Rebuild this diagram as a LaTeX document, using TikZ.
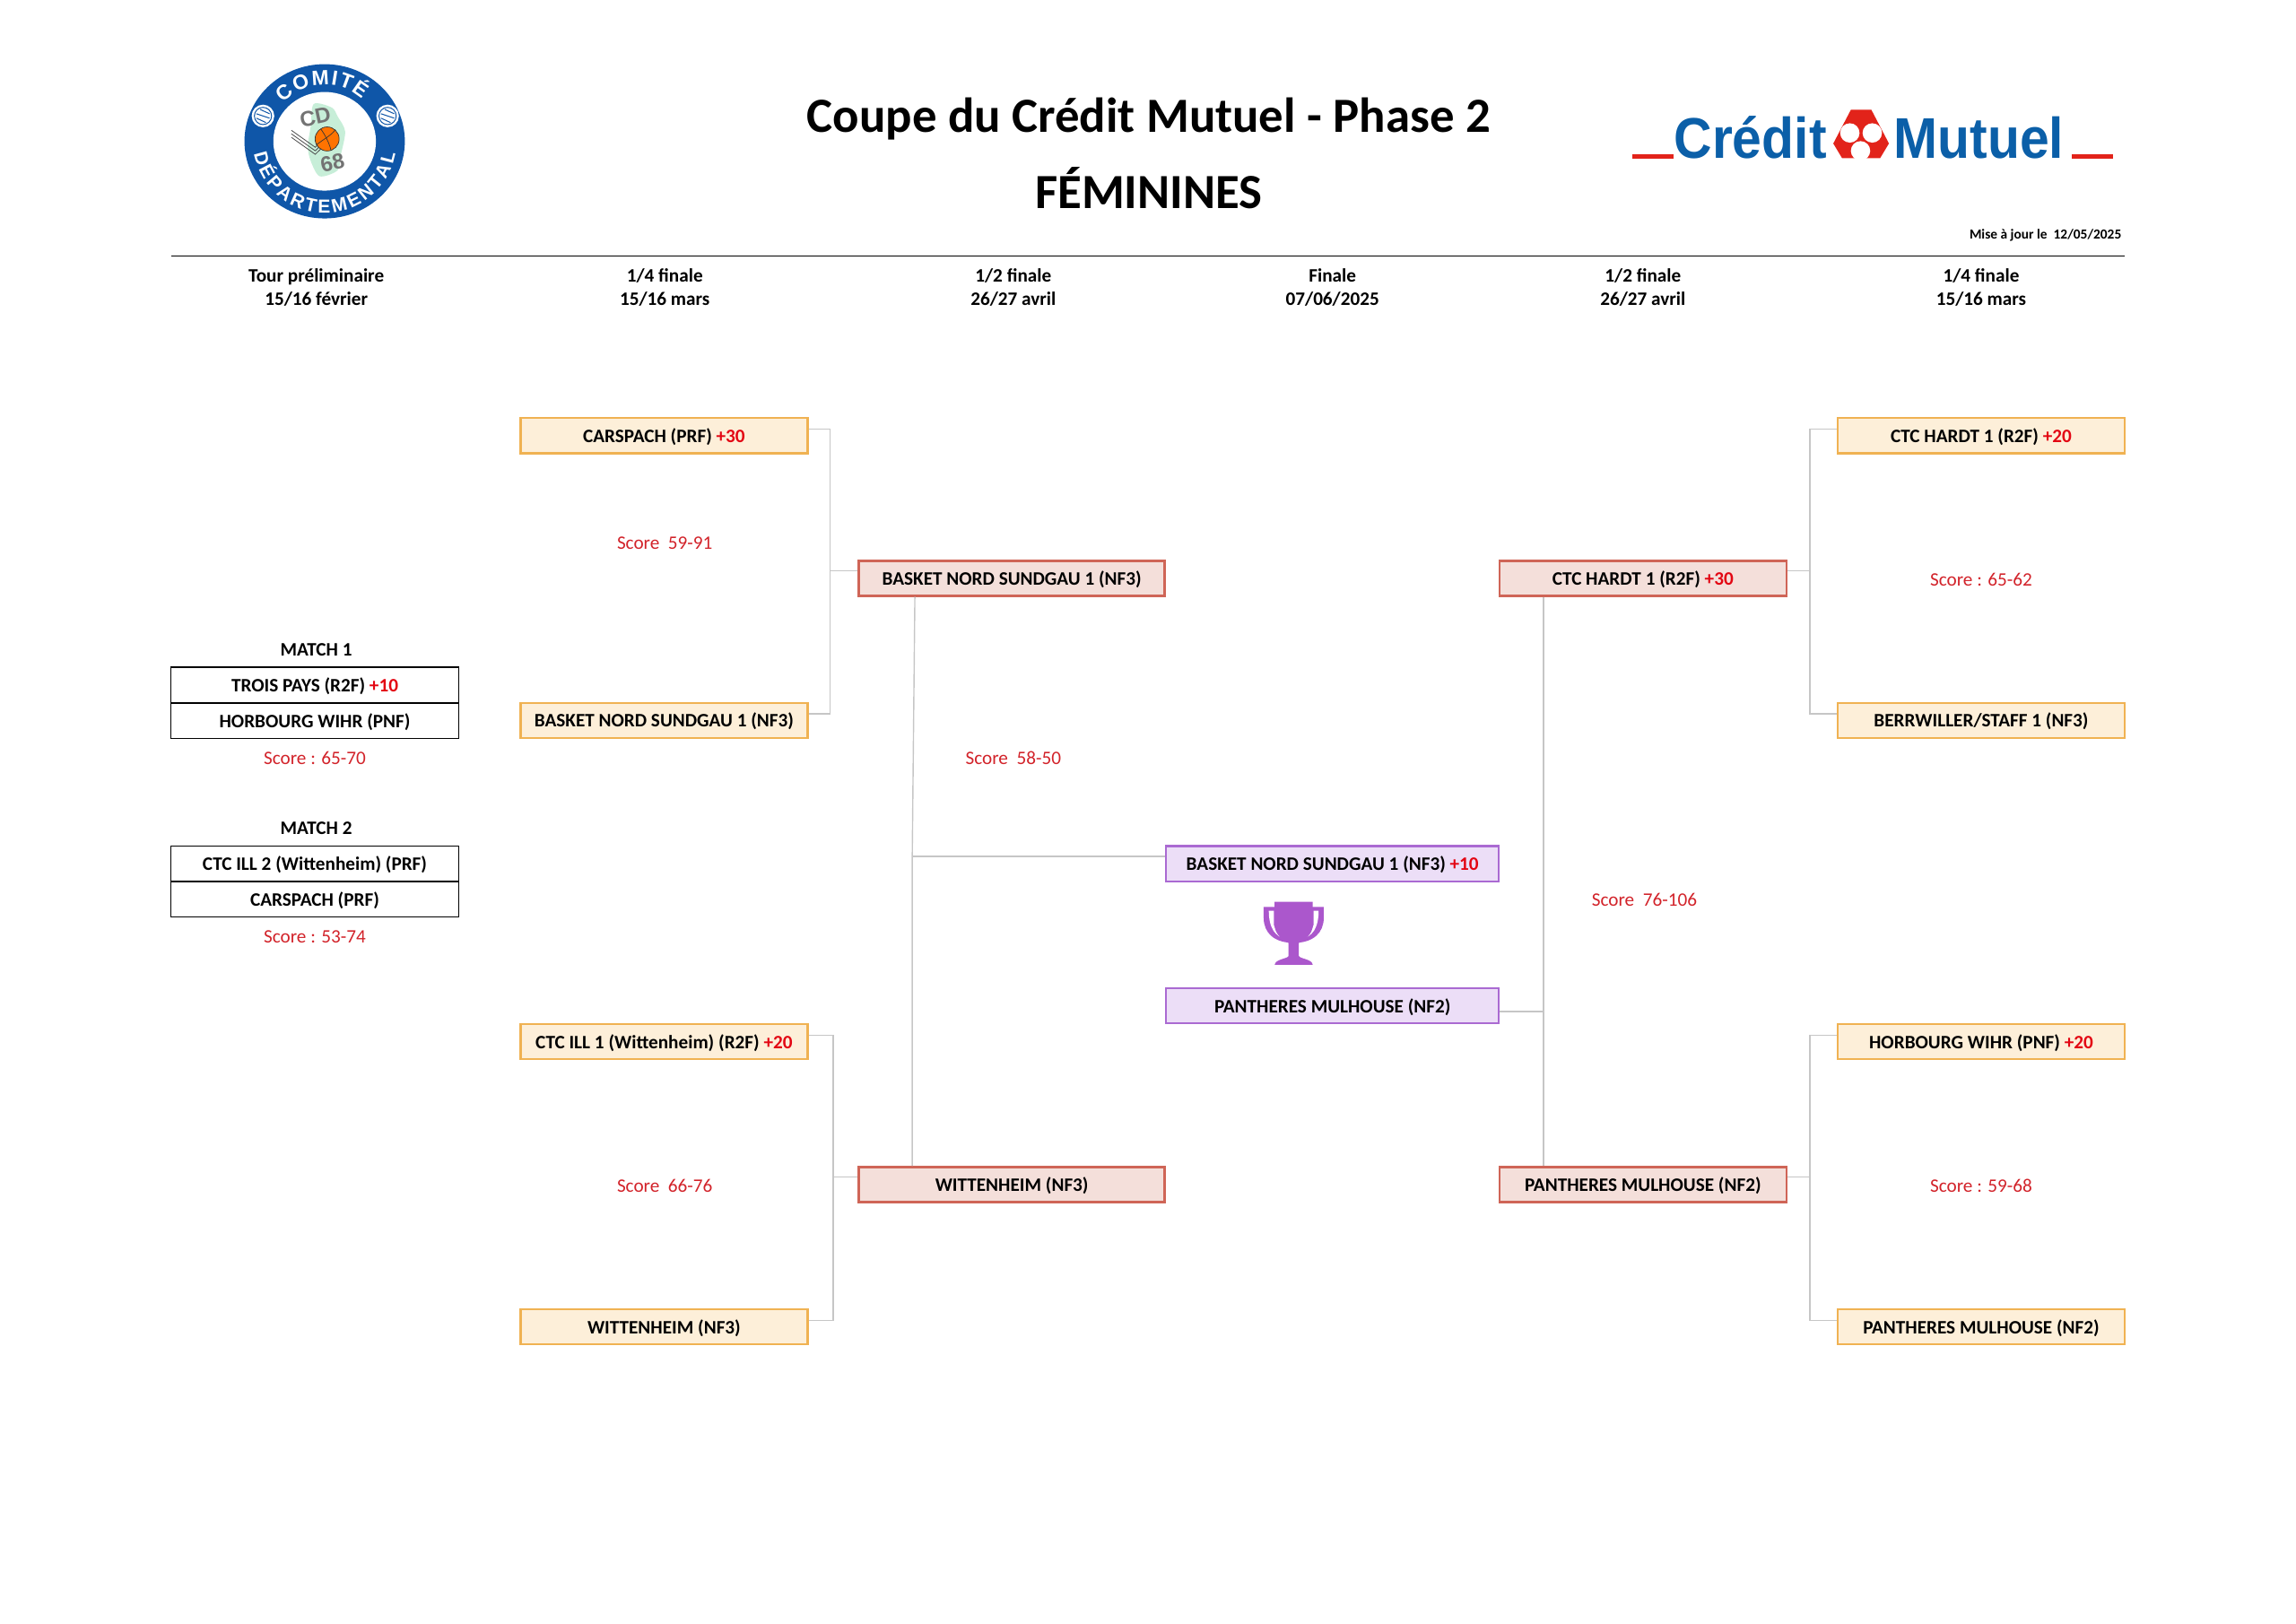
\documentclass[tikz,border=0pt]{standalone}
\usepackage{fontspec}
\setmainfont{Carlito}
\newfontfamily\logofont{Liberation Sans}
\newfontfamily\bankfont{Liberation Sans}[FakeStretch=0.92]
\usetikzlibrary{positioning,decorations.text}

\definecolor{scorered}{HTML}{D2232A}
\definecolor{plusred}{HTML}{E30613}
\definecolor{linkgrey}{HTML}{C6C6C6}
\definecolor{cmblue}{HTML}{0B5FA8}
\definecolor{cmred}{HTML}{E2231A}
\definecolor{cdblue}{HTML}{0F56A8}
\definecolor{cupviolet}{HTML}{AB57CC}
\definecolor{qline}{HTML}{F0B252}
\definecolor{qfill}{HTML}{FDEFD9}
\definecolor{sline}{HTML}{CF6557}
\definecolor{sfill}{HTML}{F4DFDA}
\definecolor{fline}{HTML}{AA6AD2}
\definecolor{ffill}{HTML}{ECDEF7}

\tikzset{
    team/.style={font=\fontsize{10.6}{12}\selectfont\bfseries, text=black, inner sep=0pt, text height=9pt, text depth=1.6pt, line width=1.2pt, draw, minimum height=19.6pt},
    quarter/.style={team, draw=qline, fill=qfill, minimum width=160pt},
    semi/.style={team, draw=sline, fill=sfill, minimum width=170.5pt},
    semib/.style={semi, minimum width=160pt},
    final/.style={team, draw=fline, fill=ffill, minimum width=185.5pt},
    match/.style={team, draw=black, line width=0.8pt, minimum width=160.5pt, minimum height=19.8pt},
    head/.style={font=\fontsize{10.6}{13}\selectfont\bfseries, align=center, inner sep=0pt},
    score/.style={font=\fontsize{10.6}{12}\selectfont, text=scorered, inner sep=0pt, yshift=-0.7pt},
    link/.style={draw=linkgrey, line width=0.7pt},
}
\newcommand{\plus}[1]{\textcolor{plusred}{#1}}

\begin{document}
\begin{tikzpicture}[x=0.8163pt,y=-0.8163pt,on grid]
    \useasboundingbox (0,0) rectangle (1568,1109.2);

    % titles
    \node[font=\fontsize{27.4}{30}\selectfont\bfseries, inner sep=0pt] (title) at (784.5,81) {Coupe du Crédit Mutuel - Phase 2};
    \node[font=\fontsize{27.4}{30}\selectfont\bfseries, inner sep=0pt, below=38.8pt of title] (sex) {FÉMININES};
    \node[font=\fontsize{7.7}{9}\selectfont\bfseries, inner sep=0pt, anchor=east] (maj) at (1449,160.5) {Mise à jour le\ \ 12/05/2025};
    \coordinate (rulea) at (117,175);
    \coordinate (ruleb) at (1451,175);
    \draw[line width=0.7pt] (rulea) -- (ruleb);

    % rounds
    \node[head] (ha) at (216,196.5) {Tour préliminaire\\15/16 février};
    \node[head] (hb) at (454,196.5) {1/4 finale\\15/16 mars};
    \node[head] (hc) at (692,196.5) {1/2 finale\\26/27 avril};
    \node[head] (hd) at (910,196.5) {Finale\\07/06/2025};
    \node[head] (he) at (1122,196.5) {1/2 finale\\26/27 avril};
    \node[head] (hf) at (1353,196.5) {1/4 finale\\15/16 mars};

    % preliminary round
    \node[head] (mt1) at (216,444) {MATCH 1};
    \node[match] (ma) at (215,468) {TROIS PAYS (R2F) \plus{+10}};
    \node[match, below=19.8pt of ma] (mb) {HORBOURG WIHR (PNF)};
    \node[score, below=20pt of mb] (msa) {Score : 65-70};
    \node[head] (mt2) at (216,566) {MATCH 2};
    \node[match] (mc) at (215,590) {CTC ILL 2 (Wittenheim) (PRF)};
    \node[match, below=19.8pt of mc] (md) {CARSPACH (PRF)};
    \node[score, below=20pt of md] (msb) {Score : 53-74};

    % left side
    \node[quarter] (qa) at (453.5,297.5) {CARSPACH (PRF) \plus{+30}};
    \node[quarter, below=158.8pt of qa] (qb) {BASKET NORD SUNDGAU 1 (NF3)};
    \node[quarter] (qc) at (453.5,711.5) {CTC ILL 1 (Wittenheim) (R2F) \plus{+20}};
    \node[quarter, below=159pt of qc] (qd) {WITTENHEIM (NF3)};
    \node[semi] (sa) at (691,395) {BASKET NORD SUNDGAU 1 (NF3)};
    \node[semi, below=338pt of sa] (sb) {WITTENHEIM (NF3)};
    \node[score] (sqa) at (454,370) {Score\ \ 59-91};
    \node[score] (sqc) at (454,809) {Score\ \ 66-76};
    \node[score] (ssa) at (692,517) {Score\ \ 58-50};

    % right side
    \node[quarter] (qe) at (1353,297.5) {CTC HARDT 1 (R2F) \plus{+20}};
    \node[quarter, below=158.8pt of qe] (qf) {BERRWILLER/STAFF 1 (NF3)};
    \node[quarter] (qg) at (1353,711.5) {HORBOURG WIHR (PNF) \plus{+20}};
    \node[quarter, below=159pt of qg] (qh) {PANTHERES MULHOUSE (NF2)};
    \node[semib] (sc) at (1122,395) {CTC HARDT 1 (R2F) \plus{+30}};
    \node[semib, below=338pt of sc] (sd) {PANTHERES MULHOUSE (NF2)};
    \node[score] (sqe) at (1353,395) {Score : 65-62};
    \node[score] (sqg) at (1353,809) {Score : 59-68};
    \node[score] (ssc) at (1123,614) {Score\ \ 76-106};

    % final
    \node[final] (fa) at (910,590) {BASKET NORD SUNDGAU 1 (NF3) \plus{+10}};
    \node[final, below=79.2pt of fa] (fb) {PANTHERES MULHOUSE (NF2)};

    % connectors
    \coordinate (ja) at (567,390);
    \coordinate (jb) at (569,804);
    \coordinate (jc) at (623,585);
    \coordinate (jd) at (1236,390);
    \coordinate (je) at (1236,804);
    \coordinate (jf) at (1054,691);
    \draw[link] ([yshift=3.7pt]qa.east) -| (ja) |- ([yshift=3.7pt]qb.east);
    \draw[link] ([yshift=3.7pt]qc.east) -| (jb) |- ([yshift=3.7pt]qd.east);
    \draw[link] (ja) -- (sa.west |- ja);
    \draw[link] (jb) -- (sb.west |- jb);
    \draw[link] ([xshift=31.8pt]sa.south west) -- (jc) -- (jc |- sb.north);
    \draw[link] (jc) -- (fa.west |- jc);
    \draw[link] ([yshift=3.7pt]qe.west) -| (jd) |- ([yshift=3.7pt]qf.west);
    \draw[link] ([yshift=3.7pt]qg.west) -| (je) |- ([yshift=3.7pt]qh.west);
    \draw[link] (jd) -- (sc.east |- jd);
    \draw[link] (je) -- (sd.east |- je);
    \draw[link] (jf |- sc.south) -- (jf |- sd.north);
    \draw[link] (fb.east |- jf) -- (jf);

    % trophy
    \fill[cupviolet] (863,619.5) -- (904,619.5) -- (904,627) .. controls (904,637) and (897,644) .. (883.5,644) .. controls (870,644) and (863,637) .. (863,627) -- cycle;
    \fill[white] (866.5,622) -- (870,622) -- (870,632) .. controls (871,636) and (874,639) .. (878,641) .. controls (871,640) and (866.5,634) .. (866.5,622) -- cycle;
    \fill[white] (900.5,622) -- (897,622) -- (897,632) .. controls (896,636) and (893,639) .. (889,641) .. controls (896,640) and (900.5,634) .. (900.5,622) -- cycle;
    \fill[cupviolet] (870.5,616) -- (896.5,616) -- (896.5,632) .. controls (896.5,638) and (891,642) .. (887,644) -- (887,653) .. controls (888,655) and (896,655) .. (896.5,659) -- (870.5,659) .. controls (871,655) and (879,655) .. (880,653) -- (880,644) .. controls (876,642) and (870.5,638) .. (870.5,632) -- cycle;

    % district logo
    \coordinate (cd) at (221.7,96.5);
    \fill[cdblue] (cd) circle[x radius=44.7pt, y radius=43pt];
    \fill[white] (cd) circle[x radius=28.6pt, y radius=27.5pt];
    \fill[green!40!teal!22!white] plot[smooth cycle] coordinates {(214.3,71) (226.6,73.5) (230.6,79.6) (235.7,89.8) (232.7,106.1) (230.6,116.3) (218.4,120.4) (212.3,110.2) (210.2,100) (212.3,85.7)};
    \foreach \dy in {-2.4,0,2.4}
        \draw[black!70, line width=0.4pt] (199,91.4+\dy) -- (215.3,103+\dy) -- (219.4,99+\dy);
    \fill[orange!90!red] (223.4,94.9) circle[radius=6.7pt];
    \draw[black!80, line width=0.35pt] (223.4,94.9) circle[radius=6.7pt];
    \draw[black!80, line width=0.35pt] (216,99) .. controls (221,95) and (227,92) .. (229,88.5);
    \draw[black!80, line width=0.35pt] (219,88) .. controls (222,92) and (225,98) .. (226,102.5);
    \node[font=\logofont\fontsize{12}{13}\selectfont\bfseries, text=black!55, inner sep=0pt, rotate=12] (cdt) at (215.3,80) {CD};
    \node[font=\logofont\fontsize{12}{13}\selectfont\bfseries, text=black!55, inner sep=0pt, rotate=12] (cdn) at (227,111.2) {68};
    \foreach \bx in {179.6,264.7} {
        \fill[white] (\bx,79.2) circle[radius=6.3pt];
        \draw[cdblue, line width=0.5pt] (\bx,79.2) circle[radius=4.8pt];
        \draw[cdblue, line width=0.5pt] (\bx-4.5,79.2-1.5) -- (\bx+4.5,79.2+1.5);
        \draw[cdblue, line width=0.5pt] (\bx-4.5,79.2+1.5) -- (\bx+2,79.2+4.5);
        \draw[cdblue, line width=0.5pt] (\bx-2,79.2-4.5) -- (\bx+4.5,79.2-1.5);
    }
    \path[decorate, decoration={text along path, text align={fit to path}, text={|\logofont\fontsize{11.5}{12}\selectfont\bfseries\color{white}|COMITÉ}}] (cd) ++(137:31.5pt) arc[start angle=137, end angle=48, radius=31.5pt];
    \path[decorate, decoration={text along path, text align={fit to path}, text={|\logofont\fontsize{10.5}{12}\selectfont\bfseries\color{white}|DÉPARTEMENTAL}}] (cd) ++(190:40pt) arc[start angle=190, end angle=350, radius=40pt];

    % bank logo
    \node[font=\bankfont\fontsize{32}{34}\selectfont\bfseries, text=cmblue, inner sep=0pt, anchor=base west] (cma) at (1143,108) {Crédit};
    \node[font=\bankfont\fontsize{32}{34}\selectfont\bfseries, text=cmblue, inner sep=0pt, anchor=base west] (cmb) at (1293,108) {Mutuel};
    \fill[cmred] (1115,105.5) rectangle (1143,108.5);
    \fill[cmred] (1415,105.5) rectangle (1443,108.5);
    \fill[cmred] (1264,75) -- (1278,75) -- (1290,98) -- (1284,108) -- (1258,108) -- (1252,98) -- cycle;
    \foreach \cx/\cy in {1263.3/90.8, 1278.6/90.8, 1270.6/103}
        \fill[white] (\cx,\cy) circle[radius=5.4pt];
\end{tikzpicture}
\end{document}
